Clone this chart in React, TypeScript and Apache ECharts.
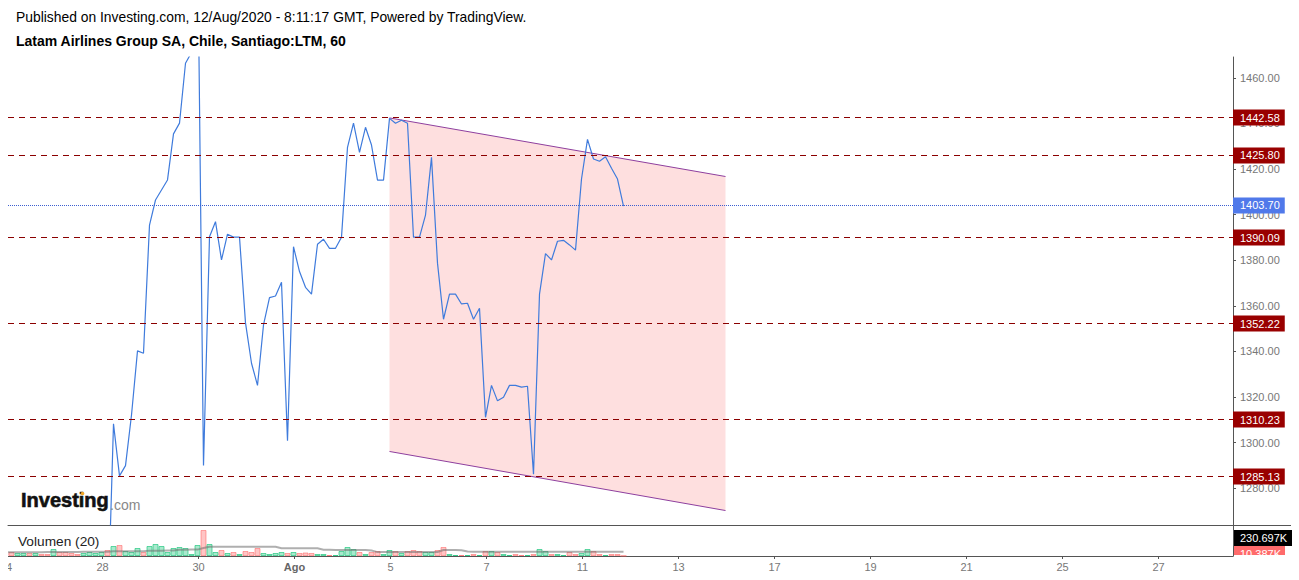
import React, { useEffect, useRef } from 'react';
import * as echarts from 'echarts';

// bar slots are 6px wide, the price line starts at slot 17
const firstPriceBar = 17;
const prices = [
  1219.6, 1308.2, 1285.4, 1289.9, 1312.1, 1340.2, 1339.2, 1395.4, 1406.4, 1410.8, 1415.2, 1435.4, 1440.1,
  1466.4, 1471.1, 1528.3, 1289.9, 1390.3, 1396.9, 1380.1, 1391.4, 1390.1, 1390.1, 1352.5, 1334.8, 1325.1,
  1351.6, 1363.6, 1364.3, 1370.3, 1300.8, 1385.9, 1375.0, 1368.1, 1365.1, 1387.0, 1389.2, 1385.2, 1385.2,
  1390.1, 1429.5, 1440.1, 1427.3, 1438.3, 1430.5, 1415.1, 1415.1, 1442.2, 1440.1, 1441.4, 1440.1, 1390.1,
  1390.1, 1399.8, 1425.1, 1378.7, 1354.1, 1365.1, 1365.1, 1360.8, 1361.1, 1354.1, 1358.9, 1311.1, 1325.1,
  1318.3, 1319.9, 1325.1, 1325.1, 1324.3, 1324.7, 1286.1, 1365.1, 1382.9, 1380.1, 1388.3, 1388.7, 1386.7,
  1384.4, 1415.6, 1433.0, 1424.4, 1423.4, 1425.4, 1420.3, 1415.6, 1403.7,
];

// volume in thousands, one per slot; 1 = up bar, 0 = down bar
const volumes = [
  162, 216, 162, 162, 162, 162, 108, 108, 378, 216, 216, 162, 108, 162, 216, 162, 216, 324, 540, 594, 270,
  216, 432, 216, 540, 648, 540, 216, 432, 486, 432, 108, 594, 1404, 648, 216, 324, 162, 216, 108, 270, 216,
  432, 162, 108, 162, 216, 162, 216, 162, 189, 162, 108, 108, 54, 54, 270, 486, 378, 216, 108, 216, 270,
  108, 324, 270, 162, 270, 324, 270, 216, 216, 324, 486, 108, 54, 54, 54, 108, 54, 270, 270, 216, 108, 54,
  108, 54, 54, 108, 378, 270, 108, 108, 54, 216, 108, 162, 378, 270, 108, 54, 108, 108, 10.387,
];
const volumeUp = [
  0, 0, 1, 1, 0, 1, 0, 0, 1, 0, 0, 0, 0, 1, 1, 1, 1, 0, 1, 0, 1, 1, 1, 0, 1, 1, 1, 1, 1, 1, 1, 1, 1, 0, 1, 1,
  0, 1, 0, 1, 0, 0, 0, 1, 1, 1, 1, 0, 1, 0, 0, 0, 1, 1, 0, 1, 1, 1, 1, 0, 1, 0, 0, 1, 1, 0, 1, 0, 0, 0, 1, 1,
  0, 0, 1, 1, 0, 1, 0, 1, 0, 1, 0, 1, 1, 0, 0, 1, 0, 1, 1, 0, 1, 1, 0, 0, 1, 1, 0, 0, 1, 0, 0, 0,
];
const volumeMa = [
  200, 200, 200, 205, 205, 205, 205, 210, 210, 210, 210, 215, 215, 225, 225, 225, 225, 225, 250, 250, 250,
  250, 255, 255, 290, 290, 290, 295, 295, 340, 340, 345, 345, 430, 500, 505, 505, 505, 505, 505, 505, 505,
  500, 500, 500, 500, 420, 420, 420, 420, 420, 415, 415, 340, 340, 330, 330, 330, 330, 330, 325, 300, 210,
  210, 210, 210, 210, 210, 210, 210, 210, 215, 215, 320, 320, 320, 310, 240, 235, 232, 232, 232, 232, 232,
  232, 232, 232, 232, 232, 232, 232, 232, 232, 232, 232, 232, 232, 232, 232, 232, 232, 232, 232, 230.697,
];

const levels = [1442.58, 1425.8, 1390.09, 1352.22, 1310.23, 1285.13];
const currentPrice = 1403.7;
const priceTicks = [1280, 1300, 1320, 1340, 1360, 1380, 1400, 1420, 1440, 1460];

const firstDayTick = 16.17;
const dayTickStep = 16;
const dayLabels = ['28', '30', 'Ago', '5', '7', '11', '13', '17', '19', '21', '25', '27'];

// descending channel, drawn from slot 64 to slot 120
const channelX = [64, 120];
const channelTop = [1442.4, 1416.7];
const channelBottom = [1296.1, 1270.2];

const AXIS_COLOR = '#555555';
const LEVEL_COLOR = '#8b0000';
const LABEL_FONT = 'Liberation Sans';

const PRICE_MIN = 1263.85;
const PRICE_MAX = 1469.12;
const PANE_TOP = 57;
const PANE_HEIGHT = 468;

// nudge a level onto a pixel row so the 1px dashes stay crisp
function onPixelRow(v: number) {
  const y = PANE_TOP + ((PRICE_MAX - v) / (PRICE_MAX - PRICE_MIN)) * PANE_HEIGHT;
  const row = Math.floor(y - 0.17) + 0.5;
  return PRICE_MAX - ((row - PANE_TOP) / PANE_HEIGHT) * (PRICE_MAX - PRICE_MIN);
}

function levelLine(v: number, color: string, dash: number[], bg: string) {
  return {
    name: v.toFixed(2),
    yAxis: onPixelRow(v),
    lineStyle: { color, type: dash, width: 1 },
    label: {
      show: true,
      position: 'end',
      distance: 0,
      formatter: '{b}',
      color: '#ffffff',
      fontFamily: LABEL_FONT,
      fontSize: 11,
      lineHeight: 16,
      backgroundColor: bg,
      padding: [0, 5, 0, 7],
    },
  };
}

export default function App() {
  const chartRef = useRef<HTMLDivElement>(null);

  useEffect(() => {
    if (!chartRef.current) return undefined;

    const slotMin = 0.4167;
    const slotMax = 204.583;

    const option = {
      animation: false,
      textStyle: { fontFamily: LABEL_FONT },
      grid: [
        { left: 8, width: 1225, top: PANE_TOP, height: PANE_HEIGHT },
        { left: 8, width: 1225, top: 526, height: 30 },
      ],
      xAxis: [
        {
          type: 'value',
          gridIndex: 0,
          min: slotMin,
          max: slotMax,
          splitLine: { show: false },
          axisTick: { show: false },
          axisLabel: { show: false },
          axisLine: { show: true, onZero: false, lineStyle: { color: AXIS_COLOR } },
        },
        {
          type: 'value',
          gridIndex: 1,
          min: slotMin,
          max: slotMax,
          splitLine: { show: false },
          axisLine: { show: true, onZero: false, lineStyle: { color: AXIS_COLOR } },
          axisTick: {
            show: true,
            length: 3,
            lineStyle: { color: AXIS_COLOR },
            customValues: dayLabels.map((_, i) => firstDayTick + i * dayTickStep),
          },
          axisLabel: {
            show: true,
            margin: 5,
            fontSize: 11,
            color: '#777777',
            fontFamily: LABEL_FONT,
            customValues: dayLabels.map((_, i) => firstDayTick + i * dayTickStep),
            formatter: (value: number) => {
              const label = dayLabels[Math.round((value - firstDayTick) / dayTickStep)];
              return label === 'Ago' ? `{month|${label}}` : label;
            },
            rich: { month: { fontWeight: 'bold', fontSize: 11, color: '#666666', fontFamily: LABEL_FONT } },
          },
        },
      ],
      yAxis: [
        {
          type: 'value',
          gridIndex: 0,
          position: 'right',
          min: PRICE_MIN,
          max: PRICE_MAX,
          splitLine: { show: false },
          axisLine: { show: true, onZero: false, lineStyle: { color: AXIS_COLOR } },
          axisTick: { show: true, length: 3, lineStyle: { color: AXIS_COLOR }, customValues: priceTicks },
          axisLabel: {
            show: true,
            margin: 7,
            fontSize: 11,
            color: '#777777',
            fontFamily: LABEL_FONT,
            customValues: priceTicks,
            formatter: (value: number) => value.toFixed(2),
          },
        },
        {
          type: 'value',
          gridIndex: 1,
          position: 'right',
          min: 0,
          max: 1620,
          splitLine: { show: false },
          axisLine: { show: true, onZero: false, lineStyle: { color: AXIS_COLOR } },
          axisTick: { show: false },
          axisLabel: { show: false },
        },
      ],
      series: [
        {
          type: 'custom',
          name: 'channel',
          xAxisIndex: 0,
          yAxisIndex: 0,
          silent: true,
          z: 1,
          data: [0],
          renderItem: (_params: any, api: any) => ({
            type: 'polygon',
            shape: {
              points: [
                api.coord([channelX[0], channelTop[0]]),
                api.coord([channelX[1], channelTop[1]]),
                api.coord([channelX[1], channelBottom[1]]),
                api.coord([channelX[0], channelBottom[0]]),
              ],
            },
            style: { fill: '#fedfdf' },
          }),
        },
        ...[channelTop, channelBottom].map((edge) => ({
          type: 'line',
          xAxisIndex: 0,
          yAxisIndex: 0,
          silent: true,
          z: 2,
          showSymbol: false,
          lineStyle: { color: '#8e3f9e', width: 1 },
          data: edge.map((v, i) => [channelX[i], v]),
        })),
        {
          type: 'line',
          name: 'price',
          xAxisIndex: 0,
          yAxisIndex: 0,
          z: 3,
          showSymbol: false,
          lineStyle: { color: '#3f7bdc', width: 1.2 },
          data: prices.map((v, i) => [firstPriceBar + i, v]),
          markLine: {
            silent: true,
            symbol: 'none',
            data: [
              ...levels.map((v) => levelLine(v, LEVEL_COLOR, [6, 5], '#990000')),
              levelLine(currentPrice, '#3d5fd0', [1, 1], '#5079ea'),
            ],
          },
        },
        {
          type: 'bar',
          name: 'volume',
          xAxisIndex: 1,
          yAxisIndex: 1,
          barWidth: 6,
          z: 2,
          data: volumes.map((v, i) => ({
            value: [i, v],
            itemStyle: volumeUp[i]
              ? { color: 'rgba(38,200,130,0.4)', borderColor: 'rgba(38,200,130,0.7)', borderWidth: 1 }
              : { color: 'rgba(255,90,90,0.35)', borderColor: 'rgba(255,90,90,0.5)', borderWidth: 1 },
          })),
        },
        {
          type: 'line',
          name: 'volume ma',
          xAxisIndex: 1,
          yAxisIndex: 1,
          z: 3,
          showSymbol: false,
          lineStyle: { color: 'rgba(110,110,110,0.55)', width: 2 },
          data: volumeMa.map((v, i) => [i, v]),
        },
      ],
      graphic: [
        {
          type: 'text',
          x: 16,
          y: 10,
          style: {
            text: 'Published on Investing.com, 12/Aug/2020 - 8:11:17 GMT, Powered by TradingView.',
            font: '13.87px "Liberation Sans"',
            fill: '#000000',
          },
        },
        {
          type: 'text',
          x: 16,
          y: 34,
          style: {
            text: 'Latam Airlines Group SA, Chile, Santiago:LTM, 60',
            font: 'bold 14px "Liberation Sans"',
            fill: '#000000',
          },
        },
        {
          type: 'text',
          x: 21,
          y: 490,
          z: 10,
          style: {
            text: 'Investing',
            font: 'bold 20px "Liberation Sans"',
            fill: '#111111',
            stroke: '#111111',
            lineWidth: 0.6,
          },
        },
        {
          type: 'circle',
          z: 11,
          shape: { cx: 82.5, cy: 493.5, r: 1.8 },
          style: { fill: '#f5a623' },
        },
        {
          type: 'text',
          x: 110,
          y: 497.5,
          z: 10,
          style: { text: '.com', font: '14px "Liberation Sans"', fill: '#888888' },
        },
        {
          type: 'text',
          x: 18,
          y: 534,
          z: 10,
          style: { text: 'Volumen (20)', font: '13.7px "Liberation Sans"', fill: '#222222' },
        },
        {
          type: 'line',
          z: 10,
          shape: { x1: 1233, y1: 525.5, x2: 1291, y2: 525.5 },
          style: { stroke: AXIS_COLOR, lineWidth: 1 },
        },
        // first day label sits half outside the plot
        {
          type: 'text',
          x: 9,
          y: 566.5,
          z: 10,
          style: {
            text: '4',
            font: '11px "Liberation Sans"',
            fill: '#777777',
            align: 'center',
            verticalAlign: 'middle',
          },
        },
        { type: 'rect', z: 11, shape: { x: 0, y: 526, width: 8, height: 50 }, style: { fill: '#ffffff' } },
        // last volume tags on the right
        { type: 'rect', z: 10, shape: { x: 1234, y: 546, width: 51, height: 10 }, style: { fill: '#ff6b6b' } },
        {
          type: 'text',
          x: 1240,
          y: 554,
          z: 11,
          style: {
            text: '10.387K',
            font: '11px "Liberation Sans"',
            fill: '#ffffff',
            verticalAlign: 'middle',
          },
        },
        { type: 'rect', z: 12, shape: { x: 1234, y: 555, width: 60, height: 6 }, style: { fill: '#ffffff' } },
        { type: 'rect', z: 10, shape: { x: 1234, y: 530, width: 58, height: 16 }, style: { fill: '#000000' } },
        {
          type: 'text',
          x: 1240,
          y: 538,
          z: 11,
          style: {
            text: '230.697K',
            font: '11px "Liberation Sans"',
            fill: '#ffffff',
            verticalAlign: 'middle',
          },
        },
      ],
    };

    const myChart = echarts.init(chartRef.current, undefined, { renderer: 'svg' });
    myChart.setOption(option as any);

    return () => {
      myChart.dispose();
    };
  }, []);

  return (
    <div
      ref={chartRef}
      style={{ position: 'fixed', left: 0, top: 0, width: '1299px', height: '580px', background: '#ffffff' }}
    />
  );
}
